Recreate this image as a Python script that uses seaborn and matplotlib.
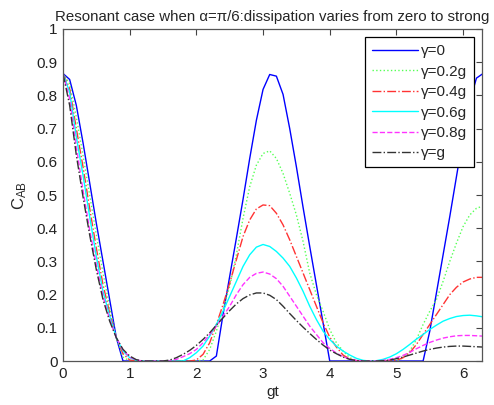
import numpy as np
import matplotlib
matplotlib.use('Agg')
import matplotlib.pyplot as plt
import seaborn as sns

# gt samples (0 .. 6.3, step 0.1)
gt = np.round(np.arange(0, 6.31, 0.1), 1)

c_g0 = [0.866, 0.848, 0.770, 0.658, 0.537, 0.415, 0.300, 0.185, 0.070, 0.0,
        0, 0, 0, 0, 0, 0, 0, 0, 0, 0,
        0, 0, 0, 0.015, 0.140, 0.255, 0.370, 0.487, 0.610, 0.725,
        0.818, 0.863, 0.858, 0.803, 0.700, 0.585, 0.463, 0.345, 0.230, 0.115,
        0, 0, 0, 0, 0, 0, 0, 0, 0, 0,
        0, 0, 0, 0, 0, 0.090, 0.205, 0.320, 0.435, 0.555,
        0.675, 0.782, 0.852, 0.866]
c_g02 = [0.866, 0.835, 0.735, 0.620, 0.500, 0.380, 0.265, 0.160, 0.070, 0.012,
         0, 0, 0, 0, 0, 0, 0, 0, 0, 0,
         0, 0.003, 0.035, 0.090, 0.155, 0.225, 0.320, 0.430, 0.525, 0.590,
         0.625, 0.633, 0.610, 0.565, 0.505, 0.440, 0.360, 0.265, 0.200, 0.150,
         0.095, 0.055, 0.030, 0.010, 0.002, 0, 0, 0, 0, 0,
         0, 0.010, 0.030, 0.065, 0.110, 0.150, 0.185, 0.240, 0.300, 0.355,
         0.405, 0.440, 0.460, 0.467]
c_g04 = [0.866, 0.820, 0.700, 0.585, 0.460, 0.340, 0.230, 0.145, 0.070, 0.022,
         0.003, 0, 0, 0, 0, 0, 0, 0, 0, 0,
         0.003, 0.020, 0.055, 0.110, 0.170, 0.235, 0.305, 0.375, 0.425, 0.458,
         0.470, 0.468, 0.445, 0.410, 0.365, 0.315, 0.265, 0.215, 0.165, 0.115,
         0.072, 0.042, 0.018, 0.006, 0.001, 0, 0, 0, 0, 0,
         0.002, 0.010, 0.025, 0.050, 0.080, 0.110, 0.140, 0.170, 0.200, 0.222,
         0.238, 0.247, 0.252, 0.252]
c_g06 = [0.866, 0.810, 0.675, 0.560, 0.435, 0.315, 0.210, 0.135, 0.070, 0.030,
         0.010, 0.002, 0, 0, 0, 0, 0, 0, 0, 0.010,
         0.025, 0.045, 0.075, 0.110, 0.150, 0.195, 0.240, 0.285, 0.320, 0.343,
         0.351, 0.345, 0.330, 0.310, 0.285, 0.250, 0.210, 0.165, 0.125, 0.090,
         0.065, 0.045, 0.030, 0.018, 0.008, 0.002, 0, 0.001, 0.005, 0.012,
         0.022, 0.035, 0.050, 0.066, 0.080, 0.095, 0.108, 0.120, 0.128, 0.134,
         0.137, 0.138, 0.136, 0.133]
c_g08 = [0.866, 0.790, 0.645, 0.515, 0.395, 0.290, 0.195, 0.125, 0.070, 0.033,
         0.012, 0.003, 0, 0, 0, 0, 0, 0.005, 0.013, 0.022,
         0.035, 0.055, 0.080, 0.105, 0.135, 0.165, 0.200, 0.230, 0.252, 0.264,
         0.268, 0.262, 0.248, 0.225, 0.195, 0.165, 0.135, 0.105, 0.080, 0.055,
         0.038, 0.024, 0.013, 0.006, 0.002, 0, 0, 0, 0.002, 0.005,
         0.010, 0.017, 0.026, 0.037, 0.047, 0.056, 0.063, 0.069, 0.073, 0.076,
         0.077, 0.077, 0.076, 0.075]
c_g1 = [0.866, 0.770, 0.620, 0.495, 0.380, 0.275, 0.185, 0.120, 0.070, 0.035,
        0.015, 0.004, 0, 0, 0, 0, 0.003, 0.010, 0.020, 0.032,
        0.047, 0.065, 0.085, 0.108, 0.130, 0.152, 0.172, 0.188, 0.199, 0.205,
        0.205, 0.198, 0.185, 0.165, 0.143, 0.122, 0.102, 0.083, 0.065, 0.048,
        0.033, 0.022, 0.012, 0.005, 0.001, 0, 0, 0, 0.001, 0.003,
        0.007, 0.012, 0.018, 0.024, 0.030, 0.035, 0.039, 0.042, 0.044, 0.045,
        0.045, 0.044, 0.043, 0.042]

labels = ['γ=0', 'γ=0.2g', 'γ=0.4g', 'γ=0.6g', 'γ=0.8g', 'γ=g']
series = [c_g0, c_g02, c_g04, c_g06, c_g08, c_g1]
colors = ['#0000ff', '#55ff55', '#ff3333', '#00ffff', '#ff33ff', '#333333']
styles = ['-', ':', '-.', '-', '--', '-.']

sns.set_style('white')
plt.rcParams['font.family'] = ['Liberation Sans', 'DejaVu Sans']
plt.rcParams['mathtext.default'] = 'regular'

fig = plt.figure(figsize=(4.94, 4.05), dpi=100)
ax = fig.add_axes([0.1275, 0.1086, 0.8482, 0.8198])

for vals, lab, col, ls in zip(series, labels, colors, styles):
    sns.lineplot(x=gt, y=vals, ax=ax, color=col, linestyle=ls, linewidth=1.0, label=lab)

ax.set_xlim(0, 2 * np.pi)
ax.set_ylim(0, 1)
ax.set_xticks(range(0, 7))
ax.set_yticks(np.round(np.arange(0, 1.01, 0.1), 1))
ax.set_yticklabels(['0', '0.1', '0.2', '0.3', '0.4', '0.5', '0.6', '0.7', '0.8', '0.9', '1'])
ax.tick_params(direction='in', top=True, right=True, length=4, width=0.8,
               labelsize=11, color='#444444', labelcolor='#222222', pad=4)
for sp in ax.spines.values():
    sp.set_color('#555555')
    sp.set_linewidth(0.9)

ax.set_xlabel('gt', fontsize=11, labelpad=3)
ax.set_ylabel('C$_{AB}$', fontsize=12, labelpad=5)
ax.set_title('Resonant case when α=π/6:dissipation varies from zero to strong',
             fontsize=10.8, pad=6)

leg = ax.legend(loc='upper right', fontsize=11, handlelength=3.0, fancybox=False,
                edgecolor='black', framealpha=1, borderpad=0.45, labelspacing=0.42,
                handletextpad=0.2, borderaxespad=0.55)
leg.get_frame().set_linewidth(0.9)

fig.savefig('out.png', dpi=100)
